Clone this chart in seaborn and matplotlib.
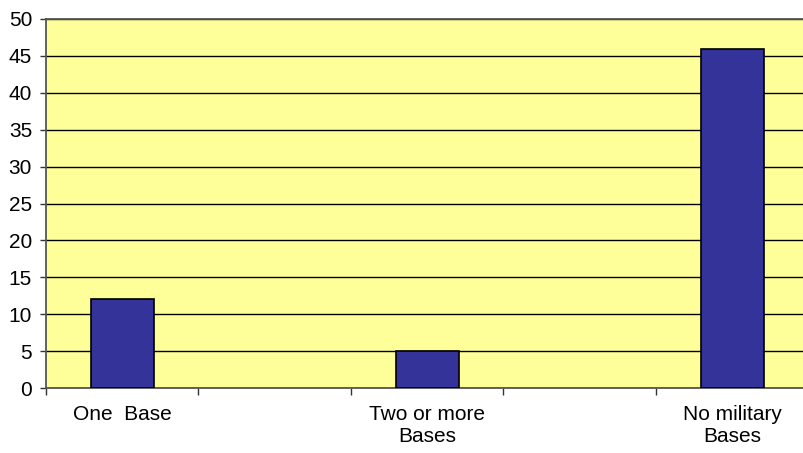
import numpy as np
import pandas as pd
import matplotlib
matplotlib.use("Agg")
import matplotlib.pyplot as plt
import seaborn as sns

# data
categories = ["One  Base", "Two or more\nBases", "No military\nBases"]
counts = [12, 5, 46]
# empty slots sit between the labelled categories
slots = ["One  Base", "gap1", "Two or more\nBases", "gap2", "No military\nBases"]
y_ticks = [0, 5, 10, 15, 20, 25, 30, 35, 40, 45, 50]

df = pd.DataFrame({"category": categories, "count": counts})

sns.set_style("white")
plt.rcParams["font.family"] = ["Liberation Sans", "DejaVu Sans"]

fig = plt.figure(figsize=(8.04, 4.53), dpi=100)
W, H = 804, 453
ax = fig.add_axes([46 / W, (H - 388) / H, (808.5 - 46) / W, (388 - 19) / H])
ax.set_facecolor("#FFFF99")

sns.barplot(data=df, x="category", y="count", order=slots, color="#333399",
            saturation=1, width=0.41, edgecolor="black", linewidth=1.2,
            ax=ax, zorder=3)

ax.set_ylim(0, 50)
ax.set_xlim(-0.5, 4.5)
ax.set_yticks(y_ticks)
ax.set_yticklabels([str(v) for v in y_ticks], fontsize=15, color="black")
ax.yaxis.grid(True, color="black", linewidth=1.0, zorder=1)
ax.set_axisbelow(True)

# ticks at the slot borders, labels at the bar centres
ax.set_xticks(np.arange(-0.5, 5, 1))
ax.set_xticklabels([""] * 6)
ax.set_xticks([0, 2, 4], minor=True)
ax.set_xticklabels([categories[0], categories[1], categories[2]], minor=True,
                   fontsize=15, linespacing=1.2, color="black")
ax.tick_params(axis="x", which="major", direction="out", length=5,
               color="#333333", width=1, bottom=True)
ax.tick_params(axis="x", which="minor", length=0, pad=12)
ax.tick_params(axis="y", direction="out", length=4, color="#333333",
               width=1, left=True, pad=6)

ax.set_xlabel("")
ax.set_ylabel("")
for side in ["left", "bottom", "top"]:
    ax.spines[side].set_visible(True)
    ax.spines[side].set_color("#555555")
    ax.spines[side].set_linewidth(1.3)
ax.spines["right"].set_visible(False)

fig.savefig("out.png", dpi=100)
